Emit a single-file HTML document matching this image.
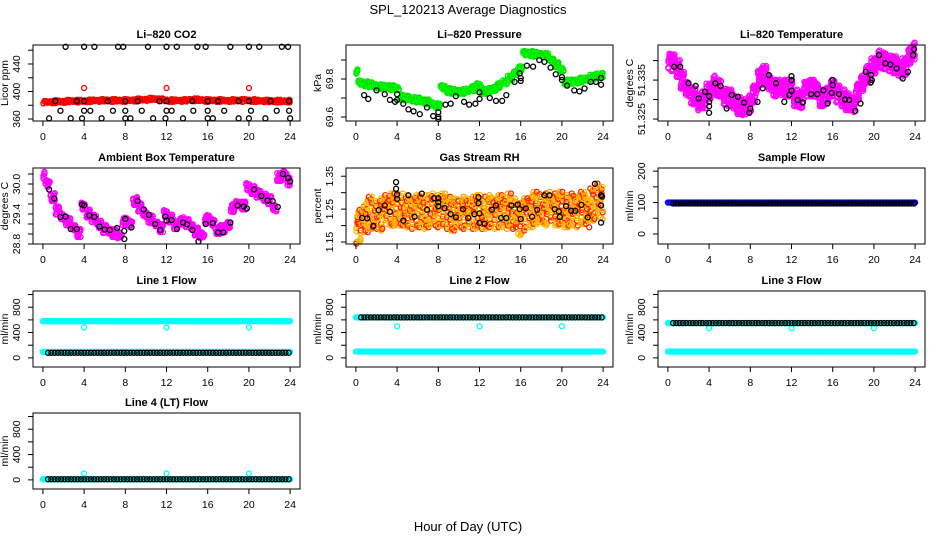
<!DOCTYPE html>
<html><head><meta charset="utf-8"><style>
html,body{margin:0;padding:0;background:#fff}
svg{display:block}
text{font-family:"Liberation Sans",sans-serif}
</style></head><body>
<svg id="chart" width="936" height="540" viewBox="0 0 936 540" xmlns="http://www.w3.org/2000/svg">
<rect width="936" height="540" fill="#fff"/>
<text x="468" y="14" text-anchor="middle" font-size="13">SPL_120213  Average Diagnostics</text>
<text x="468" y="531" text-anchor="middle" font-size="13">Hour of Day (UTC)</text>
</svg>
<script>
// ---------- data ----------
const xTicks = [0,4,8,12,16,20,24];
const halfHours = [0,0.5,1,1.5,2,2.5,3,3.5,4,4.5,5,5.5,6,6.5,7,7.5,8,8.5,9,9.5,10,10.5,11,11.5,12,12.5,13,13.5,14,14.5,15,15.5,16,16.5,17,17.5,18,18.5,19,19.5,20,20.5,21,21.5,22,22.5,23,23.5,24];

const co2Red = [384.5,384.5,385,385.5,385.5,386,386,386,386,386.5,387,387,387,387,387,387,387,387,387.5,388,388.5,389,389,388,387,387,387,387,387,388,388,387.5,387,387,387,387,387,387,387,387,387,387,386.5,386.5,386,386,386,386,386];
const co2OutHours = [4,12,20];
const co2OutVals = [405,405,405];
const co2BlackHours = [2.2,4,5,7.3,7.8,10.2,12,13,15,15.8,18.2,20,21,23.2,23.8, 1.2,3.3,4,6.3,8,9.2,11.3,12,14.5,16,17,19,20,22.1,23.9, 1.7,4,4.6,6.8,8,9.6,12,12.5,14.6,16,17.6,20.2,22.7,23.9, 0.6,2.7,3.8,5.7,8,8.5,10.7,11.9,13.6,16,16.5,19,20,21.6,24];
const co2BlackVals = [465,465,465,465,465,465,465,465,465,465,465,465,465,465,465, 386,386,386,386,386,386,386,386,386,386,386,386,386,386,386, 372,372,372,372,372,372,372,372,372,372,372,372,372,372, 361,361,361,361,361,361,361,361,361,361,361,361,361,361,361];

const presGreen = [69.84,69.78,69.775,69.77,69.765,69.76,69.76,69.755,69.75,69.705,69.70,69.695,69.69,69.685,69.68,69.67,69.66,69.755,69.74,69.735,69.735,69.735,69.74,69.75,69.765,69.735,69.74,69.75,69.765,69.785,69.805,69.83,69.855,69.935,69.935,69.93,69.93,69.925,69.90,69.875,69.85,69.785,69.785,69.79,69.795,69.80,69.81,69.82,69.82];
const presBlackHours = [0.8,1.2,2,2.8,3.3,3.8,4,4,4.6,5.1,5.6,6.2,6.9,7.5,8,8,8,8.7,9.2,9.7,10.5,11,11.6,12,12,13,13.6,14.2,14.6,15.4,16,15.9,16,16.6,17.2,17.8,18.3,18.9,19.4,20,20,20.5,21.2,21.7,22.2,22.8,23.3,23.8,23.8];
const presBlackVals = [69.715,69.695,69.74,69.72,69.69,69.68,69.69,69.72,69.67,69.64,69.63,69.615,69.65,69.605,69.6,69.625,69.59,69.665,69.67,69.71,69.68,69.665,69.67,69.695,69.73,69.70,69.685,69.685,69.715,69.785,69.79,69.83,69.805,69.87,69.865,69.90,69.89,69.86,69.825,69.81,69.795,69.765,69.74,69.735,69.75,69.785,69.785,69.805,69.77];

const tempMag = [51.340,51.3395,51.338,51.335,51.333,51.331,51.329,51.330,51.332,51.334,51.333,51.331,51.3305,51.3295,51.3285,51.328,51.329,51.3315,51.336,51.3365,51.3345,51.333,51.333,51.333,51.333,51.3305,51.330,51.333,51.333,51.3325,51.3305,51.331,51.333,51.3315,51.3305,51.3295,51.329,51.332,51.334,51.3365,51.3385,51.3405,51.340,51.3395,51.339,51.338,51.3385,51.341,51.3425];
const tempBlackHours = [0.6,1.2,2,2.7,3,3.6,4,4,4,4,4.6,5.1,5.7,6.2,6.8,7.4,7.9,8,8.7,9.2,9.8,10.5,11.3,11.8,12,12,12,12.6,13.1,13.9,14.5,15.1,15.5,15.9,16,16,16.6,17.2,17.6,18.2,18.7,19.2,19.7,19.8,19.7,20.5,21.1,21.6,22.2,22.8,23.3,23.8,23.9];
const tempBlackVals = [51.3384,51.3384,51.3342,51.3335,51.3303,51.3320,51.3283,51.3266,51.3309,51.3294,51.3342,51.3335,51.3277,51.3312,51.3307,51.3292,51.3266,51.3277,51.3294,51.3329,51.3363,51.3342,51.3294,51.3312,51.3360,51.3350,51.3323,51.3299,51.3293,51.3314,51.3314,51.3324,51.3290,51.3317,51.3337,51.3350,51.3314,51.3300,51.3299,51.3271,51.3290,51.3371,51.3363,51.3350,51.3344,51.3414,51.3393,51.3390,51.3380,51.3354,51.3371,51.3414,51.3429];

const ambMag = [30.18,30.0,29.74,29.47,29.35,29.25,29.13,29.02,29.55,29.41,29.31,29.2,29.1,29.06,29.02,28.98,29.25,29.2,29.66,29.53,29.41,29.3,29.2,29.12,29.4,29.31,29.17,29.27,29.22,29.15,29.05,28.98,29.3,29.23,29.08,29.1,29.2,29.52,29.6,29.57,29.94,29.88,29.8,29.74,29.68,29.53,30.14,30.2,30.05];
const ambBlackHours = [0.6,1.1,1.7,2.2,2.7,3.3,3.8,4,4.5,5,5.5,6,6.5,7.2,7.9,7.9,8,8.6,9.2,9.8,10.3,10.9,11.4,11.9,12,12.5,13,13.6,14,14.5,15.1,15.8,16.5,17,17.5,18.2,18.9,19.5,19.8,20.5,21.2,21.8,22.3,22.8,23.3,23.8,24];
const ambBlackVals = [29.89,29.71,29.34,29.35,29.10,29.10,29.59,29.57,29.37,29.34,29.15,29.09,29.08,29.12,29.06,28.90,29.30,29.13,29.66,29.49,29.38,29.20,29.08,29.35,29.27,29.28,29.10,29.23,29.19,29.08,28.85,29.20,29.22,29.03,29.03,29.23,29.57,29.55,29.51,29.89,29.76,29.67,29.66,29.54,30.20,30.12,30.05];

const rhCenter = [1.19,1.20,1.23,1.24,1.24,1.235,1.245,1.25,1.25,1.25,1.245,1.24,1.245,1.24,1.245,1.25,1.245,1.25,1.24,1.235,1.245,1.24,1.235,1.24,1.245,1.24,1.245,1.24,1.245,1.24,1.25,1.235,1.22,1.235,1.245,1.255,1.26,1.25,1.255,1.25,1.255,1.245,1.25,1.245,1.255,1.245,1.265,1.28,1.27];
const rhBlackHours = [0.6,1.1,1.7,2.2,2.8,3.3,3.9,3.9,4,4,4.6,5.1,5.7,6.4,6.9,7.6,8,8,8,8.6,9.2,9.7,10.4,10.9,11.5,11.9,11.9,12,12,12.5,13.2,13.6,14.1,14.6,15.1,15.7,15.9,16,16.5,17.1,17.6,18.3,18.8,19.3,19.7,19.8,20.4,20.9,21.3,21.9,22.5,23.2,23.8,23.9,23.8,23.8];
const rhBlackVals = [1.223,1.222,1.199,1.247,1.261,1.242,1.332,1.312,1.295,1.281,1.215,1.292,1.227,1.297,1.248,1.283,1.283,1.271,1.259,1.253,1.235,1.225,1.25,1.223,1.235,1.286,1.268,1.237,1.208,1.206,1.248,1.261,1.223,1.223,1.261,1.264,1.25,1.22,1.252,1.227,1.248,1.292,1.292,1.25,1.243,1.226,1.259,1.245,1.245,1.263,1.225,1.327,1.292,1.288,1.261,1.209];

const sampleBlue = 100;
const sampleBlack = 97;
const line1Cyan = [580,95];
const line1Black = 80;
const line1Out = [480,480,480];
const line2Cyan = [640,100];
const line2Black = 640;
const line2Out = [500,500,500];
const line3Cyan = [550,100];
const line3Black = 550;
const line3Out = [470,470,470];
const line4Cyan = [10];
const line4Black = 10;
const line4Out = [100,100,100];
const outHours = [4,12,20];

// ---------- drawing ----------
const NS = 'http://www.w3.org/2000/svg';
const svg = document.getElementById('chart');
const colsX = [33,346,658];
const rowsY = [45,168,291,413];
const PW = 267, PH = 76;
const jitter = [-0.9,0.4,-0.3,0.8,-0.6,0.1,0.95,-0.15,0.55,-0.8,0.25,-0.45,0.7,-1,0.05,0.6];

function el(tag, attrs, parent){
  const e = document.createElementNS(NS, tag);
  for (const k in attrs) e.setAttribute(k, attrs[k]);
  (parent||svg).appendChild(e);
  return e;
}

function panel(c, r, ymin, ymax, ticks, labels, title, ylab, name){
  const L = colsX[c], T = rowsY[r];
  const g = el('g', {});
  
  
  const x = h => L + 9.9 + h * (PW / 25.92);
  const y = v => T + PH - (v - ymin) / (ymax - ymin) * PH;
  const t = el('text', {x: L + PW/2, y: T - 7, 'text-anchor':'middle', 'font-size':11, 'font-weight':'bold'}, g);
  t.textContent = title;
  
  
  const plot = el('g', {}, g);
  
  
  const xa = el('g', {stroke:'#000','stroke-width':1}, g);
  
  
  el('line', {x1:x(xTicks[0]), x2:x(xTicks[xTicks.length-1]), y1:T+PH, y2:T+PH}, xa);
  xTicks.forEach(tk => {
    el('line', {x1:x(tk), x2:x(tk), y1:T+PH, y2:T+PH+5}, xa);
    const tl = el('text', {x:x(tk), y:T+PH+19, 'text-anchor':'middle', 'font-size':10.5, stroke:'none'}, xa);
    tl.textContent = tk;
    
    
  });
  const ya = el('g', {stroke:'#000','stroke-width':1}, g);
  
  
  el('line', {x1:L, x2:L, y1:y(ticks[0]), y2:y(ticks[ticks.length-1])}, ya);
  ticks.forEach(tk => el('line', {x1:L-5, x2:L, y1:y(tk), y2:y(tk)}, ya));
  labels.forEach(lb => {
    const yy = y(parseFloat(lb));
    const tl = el('text', {x:L-13, y:yy, 'text-anchor':'middle', 'font-size':10.5, stroke:'none', transform:`rotate(-90 ${L-13} ${yy})`}, ya);
    tl.textContent = lb;
    
    
  });
  const yl = el('text', {x:L-25, y:T+PH/2, 'text-anchor':'middle', 'font-size':10.5, transform:`rotate(-90 ${L-25} ${T+PH/2})`}, g);
  yl.textContent = ylab;
  
  
  const box = el('rect', {x:L, y:T, width:PW, height:PH, fill:'none', stroke:'#000', 'stroke-width':1}, g);
  
  
  return {x, y, plot, L, T};
}

function pt(p, h, v, color){
  el('circle', {cx:p.x(h), cy:p.y(v), r:2.5, fill:'none', stroke:color, 'stroke-width':1.3}, p.plot);
}
function cloud(p, vals, spread, colors, perX){
  vals.forEach((v, i) => {
    const h0 = halfHours[i];
    for (let j = 0; j < 5; j++) {
      const hh = h0 - 0.25 + j * 0.1;
      if (hh < 0 || hh > 24) continue;
      for (let k = 0; k < perX; k++) {
        const off = jitter[(i*5 + j*3 + k*7) % jitter.length];
        pt(p, hh, v + off * spread, colors[(i + j + k) % colors.length]);
      }
    }
  });
}
function band(p, v, h0, h1, color, step){
  for (let h = h0; h <= h1 + 1e-9; h += step) pt(p, h, v, color);
}
function blacks(p, hours, vals){
  hours.forEach((h, i) => pt(p, h, vals[i], '#000'));
}

let p = panel(0,0, 357.1, 467.6, [360,380,400,420,440,460], ['360','400','440'], 'Li\u2013820 CO2', 'Licor ppm', 'co2');
cloud(p, co2Red, 2.0, ['#ff0000'], 2);
co2OutHours.forEach((h,i) => pt(p, h, co2OutVals[i], '#ff0000'));
blacks(p, co2BlackHours, co2BlackVals);

p = panel(1,0, 69.579, 69.979, [69.6,69.7,69.8,69.9], ['69.6','69.8'], 'Li\u2013820 Pressure', 'kPa', 'pressure');
cloud(p, presGreen, 0.013, ['#00dd00','#00ff00'], 3);
blacks(p, presBlackHours, presBlackVals);

p = panel(2,0, 51.3245, 51.344, [51.325,51.330,51.335,51.340], ['51.325','51.335'], 'Li\u2013820 Temperature', 'degrees C', 'temperature');
cloud(p, tempMag, 0.0022, ['#ff00ff'], 4);
blacks(p, tempBlackHours, tempBlackVals);

p = panel(0,1, 28.8, 30.32, [28.8,29.0,29.2,29.4,29.6,29.8,30.0,30.2], ['28.8','29.4','30.0'], 'Ambient Box Temperature', 'degrees C', 'ambient');
cloud(p, ambMag, 0.08, ['#ff00ff'], 3);
blacks(p, ambBlackHours, ambBlackVals);

p = panel(1,1, 1.144, 1.375, [1.15,1.20,1.25,1.30,1.35], ['1.15','1.25','1.35'], 'Gas Stream RH', 'percent', 'rh');
cloud(p, rhCenter, 0.05, ['#ffa500','#ff2000','#ffc000'], 4);
blacks(p, rhBlackHours, rhBlackVals);

p = panel(2,1, -32, 210, [0,50,100,150,200], ['0','100','200'], 'Sample Flow', 'ml/min', 'sample-flow');
band(p, sampleBlue, 0, 24, '#0000ff', 0.12);
band(p, sampleBlack, 0.5, 24, '#000', 0.3);

const flowTicks = [0,200,400,600,800,1000], flowLabels = ['0','400','800'];
function flowPanel(c, r, title, name, cyanLevels, blackLevel, outs){
  const q = panel(c, r, -144, 1056, flowTicks, flowLabels, title, 'ml/min', name);
  cyanLevels.forEach(v => band(q, v, 0, 24, '#00ffff', 0.12));
  outs.forEach((v,i) => pt(q, outHours[i], v, '#00ffff'));
  band(q, blackLevel, 0.5, 24, '#000', 0.32);
  return q;
}
flowPanel(0,2, 'Line 1 Flow', 'line1-flow', line1Cyan, line1Black, line1Out);
flowPanel(1,2, 'Line 2 Flow', 'line2-flow', line2Cyan, line2Black, line2Out);
flowPanel(2,2, 'Line 3 Flow', 'line3-flow', line3Cyan, line3Black, line3Out);
flowPanel(0,3, 'Line 4 (LT) Flow', 'line4-flow', line4Cyan, line4Black, line4Out);
</script>
</body></html>
